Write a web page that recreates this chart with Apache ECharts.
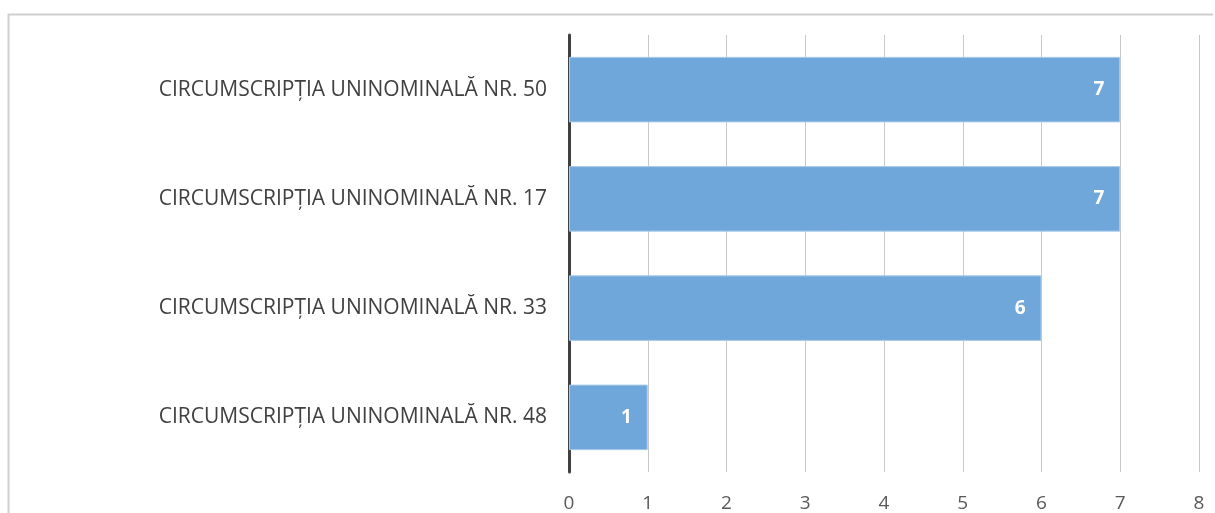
<!DOCTYPE html>
<html style="height: 100%">
<head>
  <meta charset="utf-8">
  <script src="https://cdn.jsdelivr.net/npm/echarts@6/dist/echarts.min.js"></script>
</head>
<body style="height: 100%; margin: 0; background: #fff">
  <div id="main" style="width: 1215px; height: 513px"></div>
  <script type="text/javascript">
    // categories listed bottom to top
    var categories = [
      'CIRCUMSCRIPȚIA UNINOMINALĂ NR. 48',
      'CIRCUMSCRIPȚIA UNINOMINALĂ NR. 33',
      'CIRCUMSCRIPȚIA UNINOMINALĂ NR. 17',
      'CIRCUMSCRIPȚIA UNINOMINALĂ NR. 50'
    ];
    var values = [1, 6, 7, 7];
    var xMin = 0, xMax = 8, xStep = 1;

    var myChart = echarts.init(document.getElementById('main'));
    var option = {
      animation: false,
      textStyle: { fontFamily: 'Open Sans' },
      graphic: [
        {
          type: 'polyline',
          shape: { points: [[8.5, 513], [8.5, 14.5], [1213, 14.5]] },
          style: { stroke: '#cfcfcf', lineWidth: 2, fill: null }
        }
      ],
      grid: { left: 569, right: 16, top: 35, bottom: 40 },
      xAxis: {
        type: 'value',
        min: xMin,
        max: xMax,
        interval: xStep,
        axisLine: { show: false },
        axisTick: { show: false },
        axisLabel: { color: '#595959', fontSize: 19, margin: 22 },
        splitLine: { show: true, lineStyle: { color: '#c8c8c8', width: 1 } }
      },
      yAxis: {
        type: 'category',
        data: categories,
        axisLine: { show: true, lineStyle: { color: '#404040', width: 3 } },
        axisTick: { show: false },
        axisLabel: { color: '#404040', fontSize: 21, margin: 22 }
      },
      series: [{
        type: 'bar',
        data: values,
        barWidth: '60%',
        itemStyle: { color: '#70a7da', borderColor: '#a9cbea', borderWidth: 1 },
        label: {
          show: true,
          position: 'insideRight',
          distance: 16,
          color: '#ffffff',
          fontWeight: 'bold',
          fontSize: 19
        }
      }]
    };
    myChart.setOption(option);
  </script>
</body>
</html>
